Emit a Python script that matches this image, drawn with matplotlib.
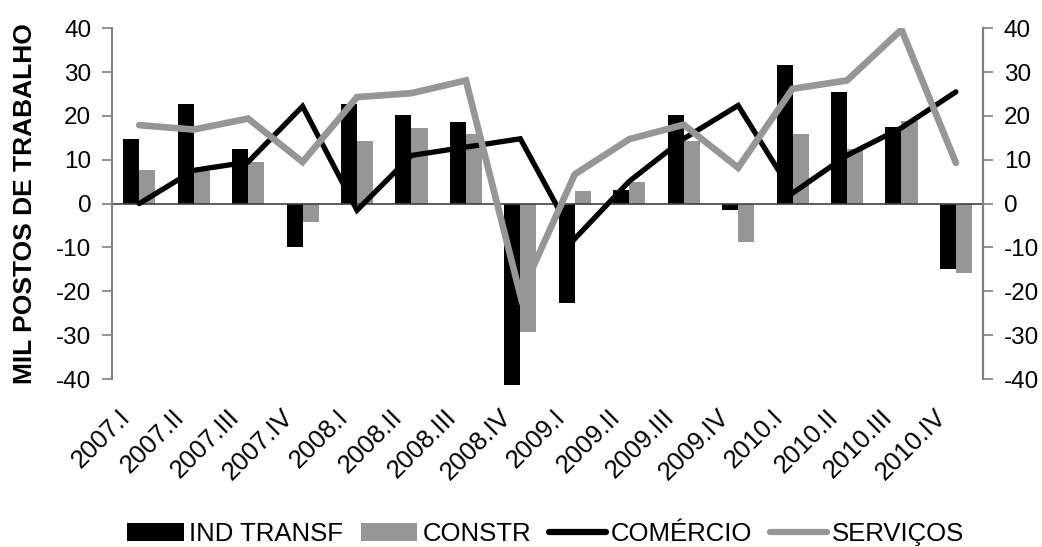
import numpy as np
import matplotlib
matplotlib.use("Agg")
import matplotlib.pyplot as plt
import matplotlib.transforms as mtransforms
from matplotlib.patches import Patch
from matplotlib.lines import Line2D

plt.rcParams['font.family'] = ['Liberation Sans', 'DejaVu Sans']

quarters = ["2007.I", "2007.II", "2007.III", "2007.IV",
            "2008.I", "2008.II", "2008.III", "2008.IV",
            "2009.I", "2009.II", "2009.III", "2009.IV",
            "2010.I", "2010.II", "2010.III", "2010.IV"]

ind_transf = [14.8, 22.7, 12.5, -9.9, 22.7, 20.2, 18.6, -41.3,
              -22.7, 3.0, 20.2, -1.5, 31.6, 25.5, 17.5, -14.9]
constr = [7.6, 7.5, 9.4, -4.2, 14.2, 17.2, 16.0, -29.3,
          2.8, 4.9, 14.4, -8.7, 15.8, 12.5, 18.9, -15.8]
comercio = [0.0, 7.6, 9.5, 22.2, -1.5, 11.0, 12.9, 14.8,
            -8.0, 5.1, 14.8, 22.4, 2.4, 11.0, 17.3, 25.5]
servicos = [17.9, 16.9, 19.4, 9.5, 24.3, 25.2, 28.1, -20.9,
            6.7, 14.7, 18.0, 8.2, 26.2, 28.1, 39.7, 9.3]

y_ticks = [-40, -30, -20, -10, 0, 10, 20, 30, 40]

BLACK = "#000000"
GRAY = "#969696"
AXIS = "#808080"

fig = plt.figure(figsize=(10.42, 5.47), dpi=100)
ax = fig.add_axes([0.1075, 0.3071, 0.836, 0.6412])

x = np.arange(len(quarters))
w = 0.295
ax.bar(x - w / 2, ind_transf, width=w, color=BLACK, zorder=2, clip_on=False)
ax.bar(x + w / 2, constr, width=w, color=GRAY, zorder=2, clip_on=False)
ax.plot(x, comercio, color=BLACK, lw=3.8, zorder=3, solid_capstyle='round',
        solid_joinstyle='miter')
ax.plot(x, servicos, color=GRAY, lw=4.8, zorder=4, solid_capstyle='round',
        solid_joinstyle='miter')

ax.axhline(0, color="#404040", lw=1.2, zorder=2.5)

ax.set_xlim(-0.5, len(quarters) - 0.5)
ax.set_ylim(-40, 40)
ax.set_yticks(y_ticks)
ax.set_yticklabels([str(v) for v in y_ticks], fontsize=17.5)
ax.tick_params(axis='y', direction='out', length=7, width=1.2, color=AXIS, pad=8)

ax.set_xticks(x)
ax.set_xticklabels(quarters, rotation=45, ha='right', va='center',
                   rotation_mode='anchor', fontsize=18.5)
ax.tick_params(axis='x', length=0, pad=25)
shift = mtransforms.ScaledTranslation(-13 / 100, 0, fig.dpi_scale_trans)
for lbl in ax.get_xticklabels():
    lbl.set_transform(lbl.get_transform() + shift)

for side in ("top", "bottom"):
    ax.spines[side].set_visible(False)
for side in ("left", "right"):
    ax.spines[side].set_color(AXIS)
    ax.spines[side].set_linewidth(1.5)

ax2 = ax.twinx()
ax2.set_ylim(-40, 40)
ax2.set_yticks(y_ticks)
ax2.set_yticklabels([str(v) for v in y_ticks], fontsize=17.5)
ax2.tick_params(axis='y', direction='out', length=7, width=1.2, color=AXIS, pad=8)
for side in ("top", "bottom", "left"):
    ax2.spines[side].set_visible(False)
ax2.spines["right"].set_color(AXIS)
ax2.spines["right"].set_linewidth(1.5)

ax.set_ylabel("MIL POSTOS DE TRABALHO", fontsize=19, fontweight='bold')
ax.yaxis.set_label_coords(-0.086, 0.5)

handles = [
    Patch(facecolor=BLACK, label="IND TRANSF"),
    Patch(facecolor=GRAY, label="CONSTR"),
    Line2D([], [], color=BLACK, lw=4.5, solid_capstyle='round', label="COMÉRCIO"),
    Line2D([], [], color=GRAY, lw=4.5, solid_capstyle='round', label="SERVIÇOS"),
]
fig.legend(handles=handles, loc='lower center', bbox_to_anchor=(0.5235, -0.04),
           ncol=4, frameon=False, fontsize=18.5, handlelength=2.2,
           handleheight=0.7, handletextpad=0.2, columnspacing=0.7)

fig.savefig("out.png", dpi=100)
